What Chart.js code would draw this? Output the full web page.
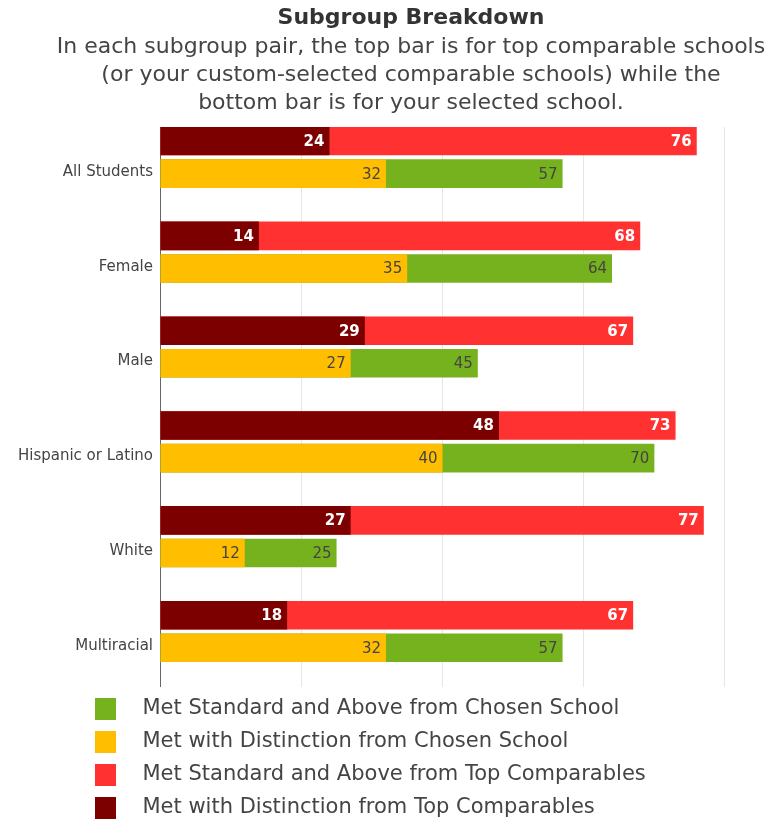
<!DOCTYPE html>
<html>
<head>
<meta charset="utf-8">
<script src="https://cdn.jsdelivr.net/npm/chart.js@4.4.1/dist/chart.umd.min.js"></script>
<style>
  body { margin: 0; background: #fff; }
  #wrap { width: 774px; height: 822px; }
</style>
</head>
<body>
<div id="wrap"><canvas id="subgroupChart"></canvas></div>
<script>
const subgroups = ["All Students", "Female", "Male", "Hispanic or Latino", "White", "Multiracial"];
const chosenStandard = [57, 64, 45, 70, 25, 57];
const chosenDistinction = [32, 35, 27, 40, 12, 32];
const topStandard = [76, 68, 67, 73, 77, 67];
const topDistinction = [24, 14, 29, 48, 27, 18];

const GREEN = "#76b21e";
const YELLOW = "#ffbe00";
const RED = "#ff3131";
const DARK_RED = "#7d0000";

Chart.defaults.font.family = "'DejaVu Sans', sans-serif";

// bar index i goes on the linear y scale at position i
const rows = values => values.map((v, i) => ({ x: v, y: i }));

// legend swatch: square on the right end of a wider transparent image,
// so the coloured box lands further left than the legend start
function legendSwatch(color) {
  const c = document.createElement("canvas");
  c.width = 78;
  c.height = 22;
  const g = c.getContext("2d");
  g.fillStyle = color;
  g.fillRect(57, 0, 21, 22);
  return c;
}

const barLabels = {
  id: "barLabels",
  afterDatasetsDraw(chart) {
    const ctx = chart.ctx;
    chart.data.datasets.forEach((ds, i) => {
      const meta = chart.getDatasetMeta(i);
      meta.data.forEach((bar, j) => {
        ctx.save();
        ctx.font = ds.labelFont;
        ctx.fillStyle = ds.labelColor;
        ctx.textAlign = "right";
        ctx.textBaseline = "middle";
        ctx.fillText(ds.data[j].x, bar.x - 5, bar.y + 1);
        ctx.restore();
      });
    });
  }
};

new Chart(document.getElementById("subgroupChart"), {
  type: "bar",
  data: {
    datasets: [
      {
        label: "Met Standard and Above from Chosen School",
        data: rows(chosenStandard),
        backgroundColor: GREEN,
        pointStyle: legendSwatch(GREEN),
        stack: "chosen",
        order: 3,
        labelColor: "#444",
        labelFont: "15px 'DejaVu Sans'"
      },
      {
        label: "Met with Distinction from Chosen School",
        data: rows(chosenDistinction),
        backgroundColor: YELLOW,
        pointStyle: legendSwatch(YELLOW),
        stack: "chosen",
        order: 1,
        labelColor: "#444",
        labelFont: "15px 'DejaVu Sans'"
      },
      {
        label: "Met Standard and Above from Top Comparables",
        data: rows(topStandard),
        backgroundColor: RED,
        pointStyle: legendSwatch(RED),
        stack: "top",
        order: 2,
        labelColor: "#fff",
        labelFont: "bold 15px 'DejaVu Sans'"
      },
      {
        label: "Met with Distinction from Top Comparables",
        data: rows(topDistinction),
        backgroundColor: DARK_RED,
        pointStyle: legendSwatch(DARK_RED),
        stack: "top",
        order: 0,
        labelColor: "#fff",
        labelFont: "bold 15px 'DejaVu Sans'"
      }
    ]
  },
  options: {
    indexAxis: "y",
    responsive: true,
    maintainAspectRatio: false,
    animation: false,
    categoryPercentage: 0.688,
    barPercentage: 0.877,
    layout: { padding: { left: 10, right: -38, top: 0, bottom: -6.5 } },
    scales: {
      x: {
        min: 0,
        max: 86.94,
        bounds: "data",
        stacked: false,
        ticks: { display: false, stepSize: 20, includeBounds: false },
        grid: { color: "#e6e6e6", drawTicks: false },
        border: { display: false }
      },
      y: {
        type: "linear",
        reverse: true,
        offset: false,
        bounds: "data",
        min: -0.32,
        max: 5.58,
        afterBuildTicks: s => { s.ticks = subgroups.map((_, i) => ({ value: i })); },
        afterFit: s => { s.width = 150; },
        grid: { display: false, drawTicks: false },
        border: { color: "#666" },
        ticks: {
          autoSkip: false,
          labelOffset: 14.5,
          padding: 7,
          color: "#444",
          font: { size: 15 },
          callback: v => subgroups[v] ?? ""
        }
      }
    },
    plugins: {
      tooltip: { enabled: false },
      title: {
        display: true,
        text: "Subgroup Breakdown",
        color: "#333",
        font: { size: 22, weight: "bold" },
        padding: { top: 5, bottom: 0 }
      },
      subtitle: {
        display: true,
        text: [
          "In each subgroup pair, the top bar is for top comparable schools",
          "(or your custom-selected comparable schools) while the",
          "bottom bar is for your selected school."
        ],
        color: "#444",
        font: { size: 22, lineHeight: 28 / 22 },
        padding: { top: 1.6, bottom: 10 }
      },
      legend: {
        position: "bottom",
        align: "start",
        labels: {
          usePointStyle: true,
          pointStyleWidth: 110,
          padding: 12,
          color: "#444",
          font: { size: 21 },
          sort: (a, b) => a.datasetIndex - b.datasetIndex
        }
      }
    }
  },
  plugins: [barLabels]
});
</script>
</body>
</html>
